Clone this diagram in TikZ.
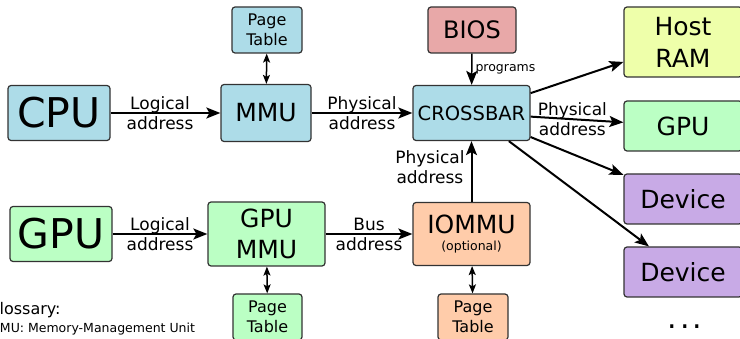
\documentclass[tikz,border=0pt]{standalone}
\usepackage{fontspec}
\setmainfont{DejaVu Sans}
\usepackage{tikz}
\usetikzlibrary{arrows.meta}
\definecolor{unitBlue}{RGB}{173,220,232}
\definecolor{unitGreen}{RGB}{187,255,196}
\definecolor{unitOrange}{RGB}{255,204,170}
\definecolor{unitPurple}{RGB}{200,170,230}
\definecolor{unitRed}{RGB}{232,168,168}
\definecolor{unitYellow}{RGB}{238,255,170}
\tikzset{
  unit/.style={draw=black!80,line width=1.2pt,rounded corners=3pt,align=center,inner sep=0pt},
  link/.style={line width=2pt,-{Stealth[length=14pt,width=11pt,inset=3pt]}},
  twoway/.style={line width=1.5pt,{Stealth[length=9pt,width=7pt,inset=2pt]}-{Stealth[length=9pt,width=7pt,inset=2pt]}},
  lbl/.style={font=\fontsize{17}{20}\selectfont,align=center,inner sep=0pt},
}

\begin{document}
\begin{tikzpicture}[x=1pt,y=-1pt]
\useasboundingbox (0,0) rectangle (740,339);
\node[unit,fill=unitBlue,minimum width=102pt,minimum height=55pt,font=\fontsize{41}{48}\selectfont] (cpu) at (59,113) {CPU};
\node[unit,fill=unitBlue,minimum width=90pt,minimum height=57pt,font=\fontsize{25}{30}\selectfont] (mmu) at (266,113) {MMU};
\node[unit,fill=unitBlue,minimum width=70pt,minimum height=46pt,font=\fontsize{16}{20}\selectfont] (ptMmu) at (267,30) {Page\\Table};
\node[unit,fill=unitBlue,minimum width=117pt,minimum height=55pt,font=\fontsize{19.5}{24}\selectfont] (xbar) at (471.5,113) {CROSSBAR};
\node[unit,fill=unitRed,minimum width=88pt,minimum height=46pt,font=\fontsize{24}{30}\selectfont] (bios) at (472,30) {BIOS};
\node[unit,fill=unitYellow,minimum width=118pt,minimum height=70pt,font=\fontsize{25}{32}\selectfont] (ram) at (683,42) {Host\\RAM};
\node[unit,fill=unitGreen,minimum width=118pt,minimum height=50pt,font=\fontsize{25}{30}\selectfont] (gpuDev) at (683,126) {GPU};
\node[unit,fill=unitPurple,minimum width=118pt,minimum height=50pt,font=\fontsize{25}{30}\selectfont] (devA) at (683,199) {Device};
\node[unit,fill=unitPurple,minimum width=118pt,minimum height=50pt,font=\fontsize{25}{30}\selectfont] (devB) at (683,272) {Device};
\node[font=\fontsize{30}{36}\selectfont,anchor=base] (more) at (685,329) {.\kern3pt.\kern3pt.};
\node[unit,fill=unitGreen,minimum width=102pt,minimum height=55pt,font=\fontsize{41}{48}\selectfont] (gpu) at (61,234) {GPU};
\node[unit,fill=unitGreen,minimum width=117pt,minimum height=64pt,font=\fontsize{25}{31}\selectfont] (gmmu) at (266.5,234) {GPU\\MMU};
\node[unit,fill=unitGreen,minimum width=69pt,minimum height=46pt,font=\fontsize{16}{20}\selectfont] (ptGmmu) at (267.5,317) {Page\\Table};
\node[unit,fill=unitOrange,minimum width=117pt,minimum height=63pt,font=\fontsize{12.5}{17}\selectfont] (iommu) at (471.5,234) {{\fontsize{25}{17}\selectfont IOMMU}\\(optional)};
\node[unit,fill=unitOrange,minimum width=70pt,minimum height=46pt,font=\fontsize{16}{20}\selectfont] (ptIommu) at (473,317) {Page\\Table};
\node[anchor=base west,inner sep=0pt,font=\fontsize{16}{20}\selectfont] (gloss) at (-13,315) {Glossary:};
\node[anchor=base west,inner sep=0pt,font=\fontsize{12.5}{15}\selectfont] (glossMmu) at (-11,333) {MMU: Memory-Management Unit};
\node[anchor=base west,inner sep=0pt,font=\fontsize{12.5}{15}\selectfont] (glossIommu) at (-11,350) {IOMMU: Input/Output MMU};
\draw[link] (cpu) -- node[lbl,pos=0.45] {Logical\\address} (mmu);
\draw[link] (mmu) -- node[lbl] {Physical\\address} (xbar);
\draw[twoway] (ptMmu) -- (mmu);
\draw[link,line width=1.5pt] (bios) -- node[right=3pt,inner sep=0pt,font=\fontsize{12.5}{15}\selectfont] {programs} (xbar);
\draw[link] (xbar) -- (ram);
\draw[link] (xbar) -- node[lbl,pos=0.45] {Physical\\address} (gpuDev);
\draw[link] (xbar) -- (devA);
\draw[link] (xbar) -- (devB);
\draw[link] (gpu) -- node[lbl] {Logical\\address} (gmmu);
\draw[link] (gmmu) -- node[lbl] {Bus\\address} (iommu);
\draw[link] (iommu) -- node[lbl,left=6pt,yshift=4pt] {Physical\\address} (xbar);
\draw[twoway] (gmmu) -- (ptGmmu);
\draw[twoway] (iommu) -- (ptIommu);
\end{tikzpicture}
\end{document}
